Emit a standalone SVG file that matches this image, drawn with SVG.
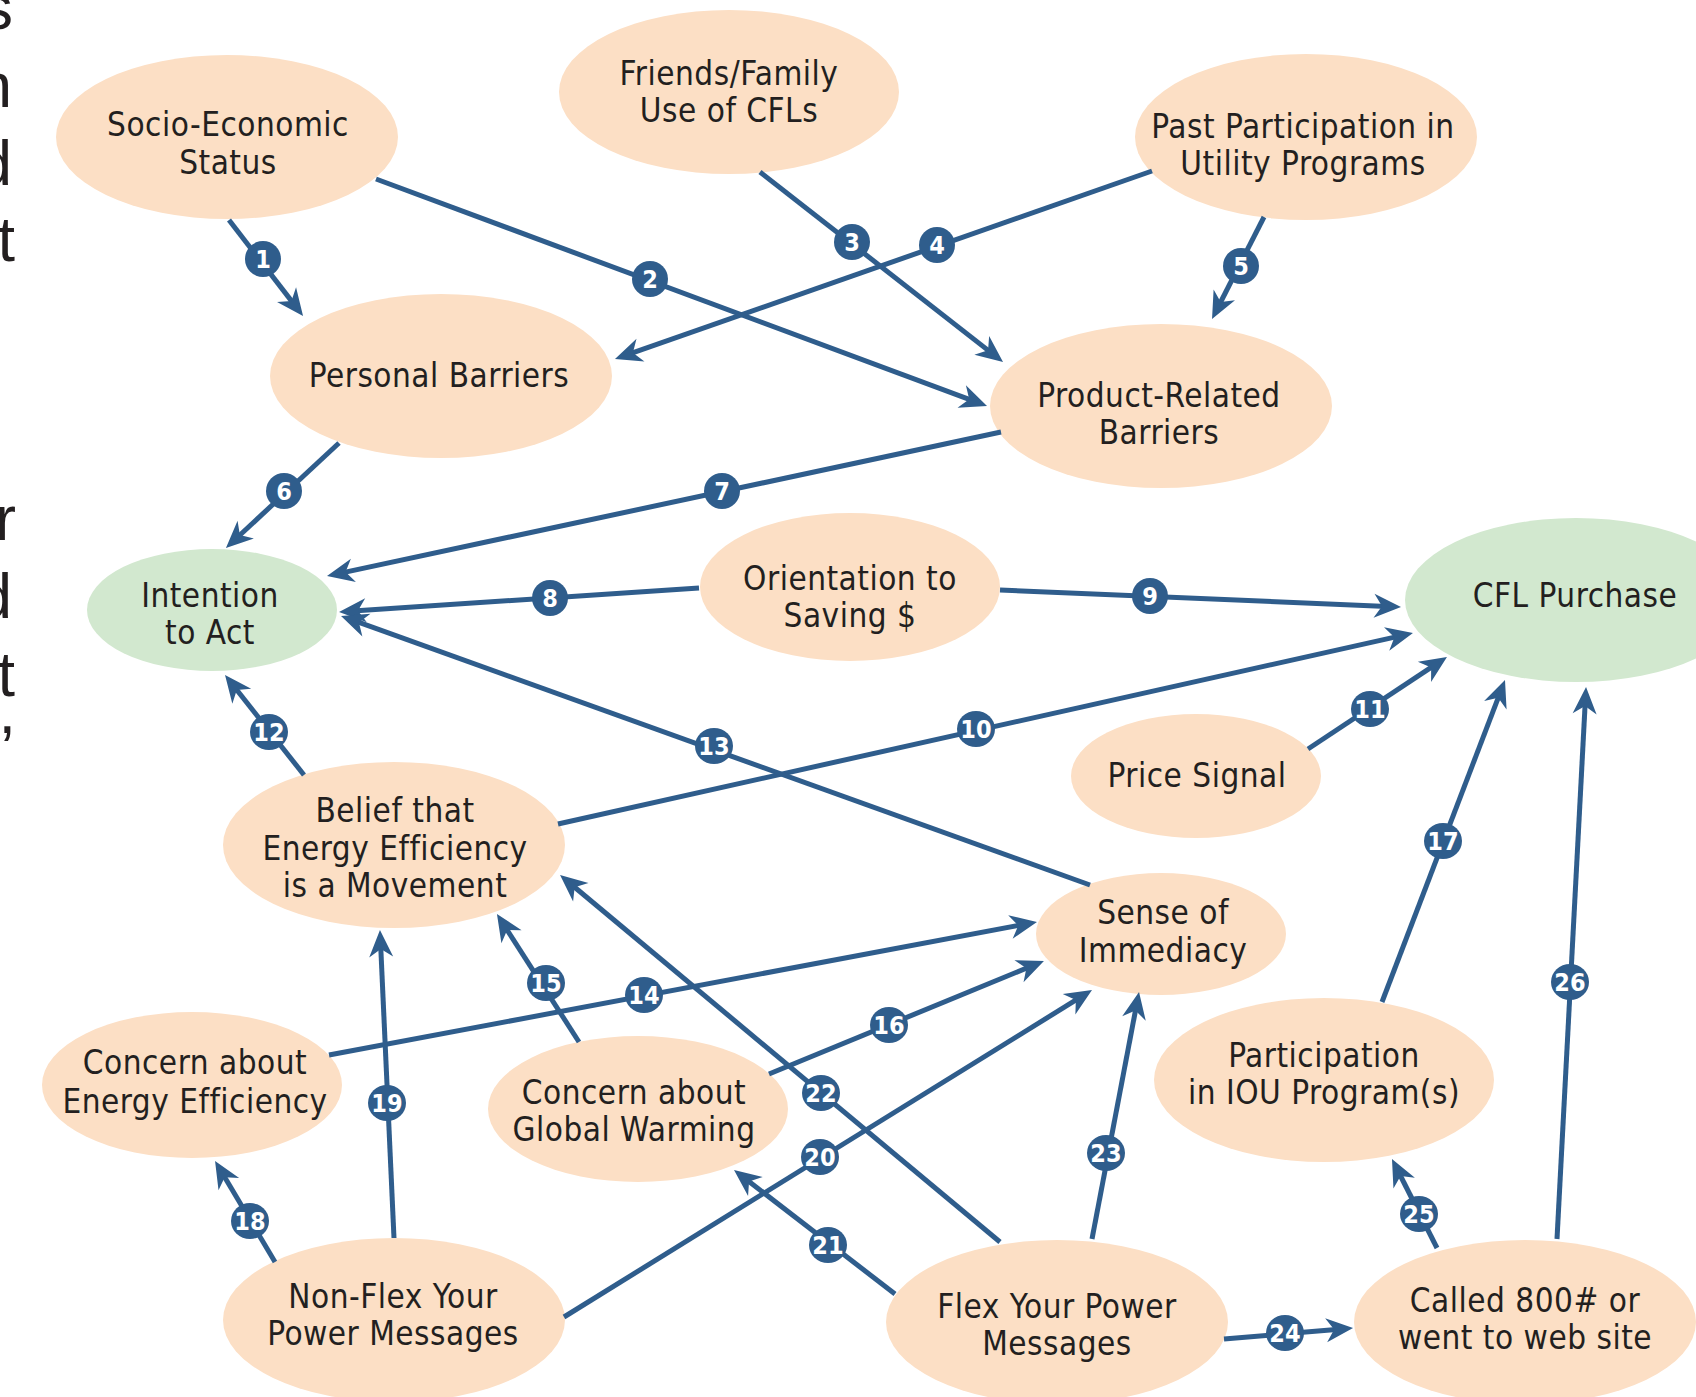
<svg xmlns="http://www.w3.org/2000/svg" width="1696" height="1397" viewBox="0 0 1696 1397">
<defs>
<style>
.peach{fill:#fcdfc5}
.green{fill:#d2e8cf}
.lbl{font-family:"Liberation Sans Narrow","DejaVu Sans Condensed","Liberation Sans",sans-serif;font-size:33px;letter-spacing:0.5px;fill:#231f20;text-anchor:middle}
.edge{font-family:"Liberation Sans","DejaVu Sans",sans-serif;font-size:63px;fill:#231f20;text-anchor:end}
.con{stroke:#2f5d8c;stroke-width:5;fill:none;marker-end:url(#ah)}
.badge ellipse{fill:#2f5d8c}
.badge text{font-family:"Liberation Sans Narrow","DejaVu Sans Condensed","Liberation Sans",sans-serif;font-weight:bold;font-size:25px;fill:#fff;text-anchor:middle}
</style>
<marker id="ah" markerUnits="userSpaceOnUse" viewBox="-16 -16 32 32" markerWidth="32" markerHeight="32" refX="0" refY="0" orient="auto" overflow="visible">
<path d="M14 0 L-13 -12 L-5 0 L-13 12 Z" fill="#2f5d8c"/>
</marker>
</defs>
<rect width="1696" height="1397" fill="#fff"/>
<g id="edge-text">
<text class="edge" x="13" y="29">s</text>
<text class="edge" x="12" y="107">n</text>
<text class="edge" x="12" y="185">d</text>
<text class="edge" x="15" y="261">t</text>
<text class="edge" x="16" y="540">r</text>
<text class="edge" x="12" y="618">d</text>
<text class="edge" x="15" y="696">t</text>
<text class="edge" x="16" y="733">,</text>
</g>
<g id="n-socio"><ellipse class="peach" cx="227" cy="137" rx="171" ry="82"/><text class="lbl" x="228" y="136">Socio-Economic</text><text class="lbl" x="228" y="174">Status</text></g>
<g id="n-friends"><ellipse class="peach" cx="729" cy="92" rx="170" ry="82"/><text class="lbl" x="729" y="85">Friends/Family</text><text class="lbl" x="729" y="122">Use of CFLs</text></g>
<g id="n-past"><ellipse class="peach" cx="1306" cy="137" rx="171" ry="83"/><text class="lbl" x="1303" y="138">Past Participation in</text><text class="lbl" x="1303" y="175">Utility Programs</text></g>
<g id="n-personal"><ellipse class="peach" cx="441" cy="376" rx="171" ry="82"/><text class="lbl" x="439" y="387">Personal Barriers</text></g>
<g id="n-product"><ellipse class="peach" cx="1161" cy="406" rx="171" ry="82"/><text class="lbl" x="1159" y="407">Product-Related</text><text class="lbl" x="1159" y="444">Barriers</text></g>
<g id="n-intention"><ellipse class="green" cx="212" cy="610" rx="125" ry="61"/><text class="lbl" x="210" y="607">Intention</text><text class="lbl" x="210" y="644">to Act</text></g>
<g id="n-orientation"><ellipse class="peach" cx="850" cy="587" rx="150" ry="74"/><text class="lbl" x="850" y="590">Orientation to</text><text class="lbl" x="850" y="627">Saving $</text></g>
<g id="n-cfl"><ellipse class="green" cx="1576" cy="600" rx="171" ry="82"/><text class="lbl" x="1575" y="607">CFL Purchase</text></g>
<g id="n-price"><ellipse class="peach" cx="1196" cy="776" rx="125" ry="62"/><text class="lbl" x="1197" y="787">Price Signal</text></g>
<g id="n-belief"><ellipse class="peach" cx="394" cy="845" rx="171" ry="83"/><text class="lbl" x="395" y="822">Belief that</text><text class="lbl" x="395" y="860">Energy Efficiency</text><text class="lbl" x="395" y="897">is a Movement</text></g>
<g id="n-sense"><ellipse class="peach" cx="1161" cy="934" rx="125" ry="61"/><text class="lbl" x="1163" y="924">Sense of</text><text class="lbl" x="1163" y="962">Immediacy</text></g>
<g id="n-concern-ee"><ellipse class="peach" cx="192" cy="1085" rx="150" ry="73"/><text class="lbl" x="195" y="1074">Concern about</text><text class="lbl" x="195" y="1113">Energy Efficiency</text></g>
<g id="n-concern-gw"><ellipse class="peach" cx="638" cy="1109" rx="150" ry="73"/><text class="lbl" x="634" y="1104">Concern about</text><text class="lbl" x="634" y="1141">Global Warming</text></g>
<g id="n-iou"><ellipse class="peach" cx="1324" cy="1080" rx="170" ry="82"/><text class="lbl" x="1324" y="1067">Participation</text><text class="lbl" x="1324" y="1104">in IOU Program(s)</text></g>
<g id="n-nonflex"><ellipse class="peach" cx="394" cy="1320" rx="171" ry="82"/><text class="lbl" x="393" y="1308">Non-Flex Your</text><text class="lbl" x="393" y="1345">Power Messages</text></g>
<g id="n-flex"><ellipse class="peach" cx="1057" cy="1322" rx="171" ry="82"/><text class="lbl" x="1057" y="1318">Flex Your Power</text><text class="lbl" x="1057" y="1355">Messages</text></g>
<g id="n-called"><ellipse class="peach" cx="1525" cy="1322" rx="171" ry="82"/><text class="lbl" x="1525" y="1312">Called 800# or</text><text class="lbl" x="1525" y="1349">went to web site</text></g>
<g id="connectors">
<line class="con" x1="229" y1="220" x2="294.5" y2="304.9"/>
<line class="con" x1="376" y1="179" x2="973.9" y2="401.1"/>
<line class="con" x1="760" y1="172" x2="992" y2="353.4"/>
<line class="con" x1="1152" y1="171" x2="628.2" y2="354.4"/>
<line class="con" x1="1264" y1="217" x2="1218.4" y2="306.5"/>
<line class="con" x1="339" y1="443" x2="236.2" y2="538.5"/>
<line class="con" x1="1001" y1="432" x2="340.7" y2="573.1"/>
<line class="con" x1="699" y1="588" x2="353" y2="611.1"/>
<line class="con" x1="1000" y1="590" x2="1387" y2="606.4"/>
<line class="con" x1="558" y1="824" x2="1399.3" y2="636.1"/>
<line class="con" x1="1308" y1="749" x2="1435.3" y2="664.7"/>
<line class="con" x1="304" y1="775" x2="233.7" y2="686"/>
<line class="con" x1="1090" y1="885" x2="354.2" y2="620.7"/>
<line class="con" x1="329" y1="1055" x2="1023.2" y2="924.6"/>
<line class="con" x1="579" y1="1042" x2="504.5" y2="925.8"/>
<line class="con" x1="769" y1="1074" x2="1031" y2="966.3"/>
<line class="con" x1="1382" y1="1002" x2="1500" y2="693.1"/>
<line class="con" x1="275" y1="1262" x2="222.2" y2="1173"/>
<line class="con" x1="394" y1="1238" x2="380.6" y2="944"/>
<line class="con" x1="564" y1="1317" x2="1080.1" y2="997.4"/>
<line class="con" x1="895" y1="1294" x2="745.1" y2="1178.5"/>
<line class="con" x1="1000" y1="1242" x2="570.8" y2="884"/>
<line class="con" x1="1092" y1="1239" x2="1136.4" y2="1005.7"/>
<line class="con" x1="1224" y1="1339" x2="1339.1" y2="1329.2"/>
<line class="con" x1="1437" y1="1248" x2="1398.3" y2="1171.5"/>
<line class="con" x1="1557" y1="1239" x2="1585.3" y2="701"/>
</g>
<g id="badges">
<g class="badge"><ellipse cx="263" cy="259" rx="18" ry="18"/><text x="263" y="268">1</text></g>
<g class="badge"><ellipse cx="650" cy="279" rx="18" ry="18"/><text x="650" y="288">2</text></g>
<g class="badge"><ellipse cx="852" cy="242" rx="18" ry="18"/><text x="852" y="251">3</text></g>
<g class="badge"><ellipse cx="937" cy="245" rx="18" ry="18"/><text x="937" y="254">4</text></g>
<g class="badge"><ellipse cx="1241" cy="266" rx="18" ry="18"/><text x="1241" y="275">5</text></g>
<g class="badge"><ellipse cx="284" cy="491" rx="18" ry="18"/><text x="284" y="500">6</text></g>
<g class="badge"><ellipse cx="722" cy="491" rx="18" ry="18"/><text x="722" y="500">7</text></g>
<g class="badge"><ellipse cx="550" cy="598" rx="18" ry="18"/><text x="550" y="607">8</text></g>
<g class="badge"><ellipse cx="1150" cy="596" rx="18" ry="18"/><text x="1150" y="605">9</text></g>
<g class="badge"><ellipse cx="976" cy="729" rx="19" ry="18"/><text x="976" y="738">10</text></g>
<g class="badge"><ellipse cx="1370" cy="709" rx="19" ry="18"/><text x="1370" y="718">11</text></g>
<g class="badge"><ellipse cx="269" cy="732" rx="19" ry="18"/><text x="269" y="741">12</text></g>
<g class="badge"><ellipse cx="714" cy="746" rx="19" ry="18"/><text x="714" y="755">13</text></g>
<g class="badge"><ellipse cx="644" cy="995" rx="19" ry="18"/><text x="644" y="1004">14</text></g>
<g class="badge"><ellipse cx="546" cy="983" rx="19" ry="18"/><text x="546" y="992">15</text></g>
<g class="badge"><ellipse cx="889" cy="1025" rx="19" ry="18"/><text x="889" y="1034">16</text></g>
<g class="badge"><ellipse cx="1443" cy="841" rx="19" ry="18"/><text x="1443" y="850">17</text></g>
<g class="badge"><ellipse cx="250" cy="1221" rx="19" ry="18"/><text x="250" y="1230">18</text></g>
<g class="badge"><ellipse cx="387" cy="1103" rx="19" ry="18"/><text x="387" y="1112">19</text></g>
<g class="badge"><ellipse cx="820" cy="1157" rx="19" ry="18"/><text x="820" y="1166">20</text></g>
<g class="badge"><ellipse cx="828" cy="1245" rx="19" ry="18"/><text x="828" y="1254">21</text></g>
<g class="badge"><ellipse cx="821" cy="1093" rx="19" ry="18"/><text x="821" y="1102">22</text></g>
<g class="badge"><ellipse cx="1106" cy="1153" rx="19" ry="18"/><text x="1106" y="1162">23</text></g>
<g class="badge"><ellipse cx="1285" cy="1333" rx="19" ry="18"/><text x="1285" y="1342">24</text></g>
<g class="badge"><ellipse cx="1419" cy="1214" rx="19" ry="18"/><text x="1419" y="1223">25</text></g>
<g class="badge"><ellipse cx="1570" cy="982" rx="19" ry="18"/><text x="1570" y="991">26</text></g>
</g>
</svg>
